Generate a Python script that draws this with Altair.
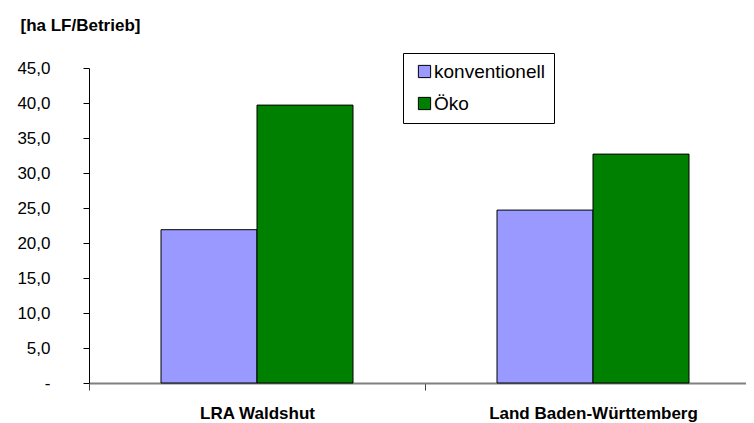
import altair as alt
import pandas as pd

categories = ["LRA Waldshut", "Land Baden-Württemberg"]
series = ["konventionell", "Öko"]
konventionell = [21.9, 24.7]
oeko = [39.7, 32.7]
y_ticks = [0, 5, 10, 15, 20, 25, 30, 35, 40, 45]

rows = []
for i, c in enumerate(categories):
    rows.append({"Region": c, "Art": series[0], "Wert": konventionell[i]})
    rows.append({"Region": c, "Art": series[1], "Wert": oeko[i]})
df = pd.DataFrame(rows)

FONT = "Liberation Sans"

chart = alt.Chart(df).mark_bar(stroke="black", strokeWidth=1).encode(
    x=alt.X("Region:N", sort=categories,
            scale=alt.Scale(paddingInner=0, paddingOuter=0, range=[0, 672]),
            axis=alt.Axis(title=None, labelAngle=0, tickBand="extent",
                          domainColor="#808080", domainWidth=2,
                          tickColor="#404040", tickSize=7, tickWidth=1,
                          labelFont=FONT, labelFontSize=17, labelFontWeight="bold",
                          labelColor="black", labelPadding=15, labelLimit=0)),
    xOffset=alt.XOffset("Art:N", sort=series,
                        scale=alt.Scale(paddingInner=0, paddingOuter=0.75)),
    y=alt.Y("Wert:Q",
            scale=alt.Scale(domain=[0, 45], nice=False),
            axis=alt.Axis(values=y_ticks, grid=False,
                          labelExpr="datum.value == 0 ? '-' : replace(format(datum.value, '.1f'), '.', ',')",
                          domainColor="black", domainWidth=1,
                          tickColor="black", tickSize=6, tickWidth=1,
                          labelFont=FONT, labelFontSize=17, labelColor="black",
                          labelPadding=33,
                          title="[ha LF/Betrieb]", titleAngle=0, titleAlign="left",
                          titleBaseline="top", titleX=-69, titleY=-51,
                          titleFont=FONT, titleFontSize=17, titleFontWeight="bold",
                          titleColor="black")),
    color=alt.Color("Art:N", sort=series,
                    scale=alt.Scale(domain=series, range=["#9999FF", "#008000"]),
                    legend=alt.Legend(title=None, orient="none", legendX=314, legendY=-15,
                                      symbolType="square", symbolSize=150,
                                      symbolStrokeColor="black", symbolStrokeWidth=1,
                                      symbolOffset=3,
                                      labelFont=FONT, labelFontSize=19, labelColor="black",
                                      labelOffset=0, rowPadding=12,
                                      padding=9, strokeColor="black", fillColor="white")),
).properties(
    width=657, height=315,
    autosize=alt.AutoSizeParams(type="none"),
    padding={"left": 81, "top": 60, "right": 0, "bottom": 40},
).configure_view(stroke=None)

chart.save("out.html", embed_options={"renderer": "svg", "actions": False})
